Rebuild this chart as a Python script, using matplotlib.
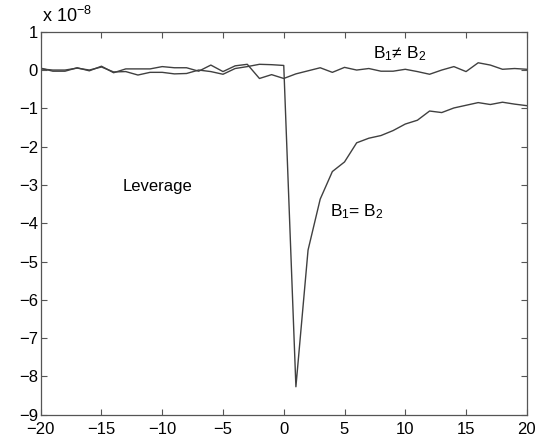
import matplotlib
matplotlib.use("Agg")
import matplotlib.pyplot as plt

plt.rcParams['font.family'] = ['Liberation Sans', 'DejaVu Sans']
plt.rcParams['mathtext.fontset'] = 'custom'
plt.rcParams['mathtext.rm'] = 'Liberation Sans'
plt.rcParams['mathtext.it'] = 'Liberation Sans'

# lags
X = list(range(-20, 21))
# B1 != B2 (x 1e-8)
NE = [0.05, -0.03, -0.03, 0.06, -0.02, 0.10, -0.07, 0.03, 0.03, 0.03,
      0.09, 0.06, 0.06, -0.03, 0.13, -0.04, 0.11, 0.15, -0.22, -0.12,
      -0.22, -0.10, -0.02, 0.06, -0.06, 0.07, 0.00, 0.04, -0.03, -0.03,
      0.02, -0.04, -0.11, 0.00, 0.09, -0.04, 0.19, 0.13, 0.02, 0.04, 0.02]
# B1 = B2 (x 1e-8)
EQ = [0.03, 0.00, 0.00, 0.05, 0.00, 0.08, -0.05, -0.04, -0.13, -0.06,
      -0.06, -0.10, -0.09, 0.00, -0.04, -0.11, 0.04, 0.09, 0.15, 0.14,
      0.12, -8.27, -4.70, -3.37, -2.65, -2.40, -1.90, -1.78, -1.71, -1.58,
      -1.41, -1.31, -1.07, -1.11, -0.99, -0.92, -0.85, -0.90, -0.84, -0.89, -0.93]

fig = plt.figure(figsize=(5.37, 4.41), dpi=100)
ax = fig.add_axes([0.0758, 0.0596, 0.9052, 0.8684])
ax.plot(X, NE, color='#404040', lw=1.0)
ax.plot(X, EQ, color='#404040', lw=1.0)
ax.set_xlim(-20, 20)
ax.set_ylim(-9, 1)
ax.set_xticks(range(-20, 21, 5))
ax.set_yticks(range(-9, 2))
ax.set_xticklabels([str(v).replace('-', '\u2212') for v in range(-20, 21, 5)])
ax.set_yticklabels([str(v).replace('-', '\u2212') for v in range(-9, 2)])
ax.tick_params(direction='in', top=True, right=True, labelsize=12, length=4,
               color='#555555')
ax.tick_params(axis='x', pad=5)
ax.tick_params(axis='y', pad=2)
for s in ax.spines.values():
    s.set_color('#555555')
    s.set_linewidth(0.9)

fig.text(0.078, 0.942, r'x 10$^{-8}$', fontsize=13, va='bottom', ha='left')
ax.text(9.5, 0.42, r'B$_1$≠ B$_2$', fontsize=12.5, ha='center', va='center')
ax.text(3.8, -3.7, r'B$_1$= B$_2$', fontsize=12.5, ha='left', va='center')
ax.text(-13.3, -3.05, 'Leverage', fontsize=12, ha='left', va='center')

fig.savefig('out.png', dpi=100)
